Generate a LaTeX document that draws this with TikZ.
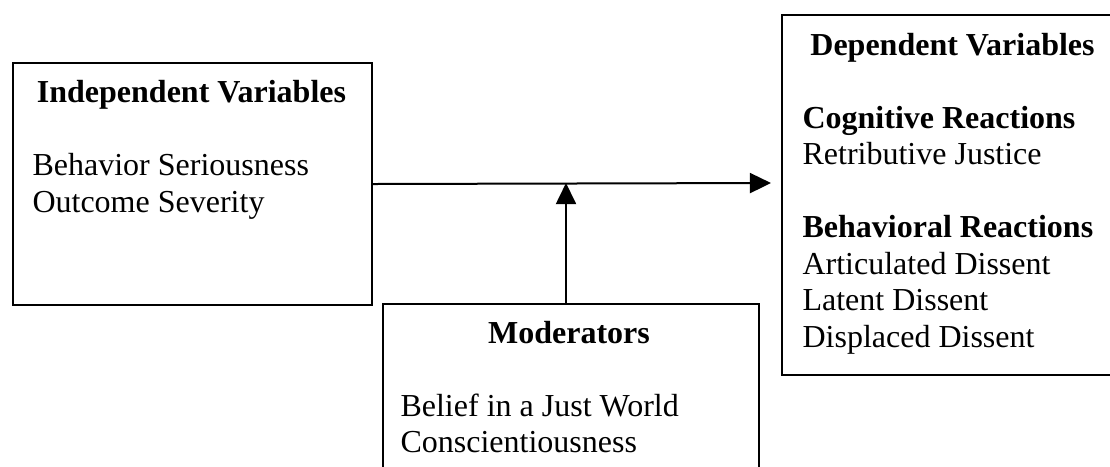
\documentclass[tikz,border=0pt]{standalone}
\usepackage{fontspec}
\setmainfont{Liberation Serif}
\usetikzlibrary{positioning,arrows.meta}

\newcommand{\boxfont}{\fontsize{12}{13.8}\selectfont}

\tikzset{
  box/.style={draw, line width=0.75pt, inner sep=0pt, anchor=north west},
  head/.style={font=\boxfont\bfseries, anchor=base, inner sep=0pt},
  item/.style={font=\boxfont, anchor=base west, inner sep=0pt},
  itemb/.style={item, font=\boxfont\bfseries},
  link/.style={line width=0.75pt, -{Triangle[length=7.9pt,width=7.5pt]}},
}

\begin{document}
\begin{tikzpicture}[x=0.375pt,y=-0.375pt]
\useasboundingbox (0,0) rectangle (1110,466);

% boxes
\node[box, minimum width=134.6pt, minimum height=90.75pt] (indep) at (12,62) {};
\node[box, minimum width=128.25pt, minimum height=135pt] (dep) at (781,14) {};
\node[box, minimum width=141pt, minimum height=81.4pt] (mod) at (382,303) {};

% independent variables
\node[head] (indephead) at (191.5,102) {Independent Variables};
\node[item] (seriousness) at (32,175) {Behavior Seriousness};
\node[item] (severity) at (32,212) {Outcome Severity};

% dependent variables
\node[head] (dephead) at (952.5,55) {Dependent Variables};
\node[itemb] (cognitive) at (802,128) {Cognitive Reactions};
\node[item] (retributive) at (802,164.5) {Retributive Justice};
\node[itemb] (behavioral) at (802,237.5) {Behavioral Reactions};
\node[item] (articulated) at (802,274) {Articulated Dissent};
\node[item] (latent) at (802,310.5) {Latent Dissent};
\node[item] (displaced) at (802,347) {Displaced Dissent};

% moderators
\node[head] (modhead) at (569,343) {Moderators};
\node[item] (justworld) at (400,416) {Belief in a Just World};
\node[item] (conscientious) at (400,452.5) {Conscientiousness};

% arrows
\coordinate (tip) at (771,183);
\coordinate (meet) at (566,183);
\draw[link] (indep.east) -- (tip);
\draw[link] (mod.north -| meet) -- (meet);

\end{tikzpicture}
\end{document}
